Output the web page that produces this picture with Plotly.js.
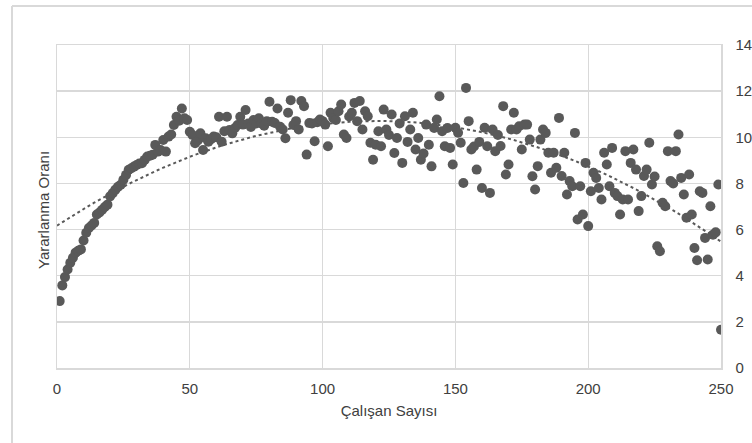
<!DOCTYPE html>
<html>
<head>
<meta charset="utf-8">
<script src="https://cdn.plot.ly/plotly-3.0.1.min.js"></script>
<style>html,body{margin:0;padding:0;background:#fff;}#chart{width:752px;height:443px;}</style>
</head>
<body>
<div id="chart"></div>
<script>
// Çalışan Sayısı (x) and Yararlanma Oranı (y)
var calisanSayisi = [
  1,2,3,4,5,6,7,8,9,10,11,12,13,14,15,16,17,18,19,20,
  21,22,23,24,25,26,27,28,29,30,31,32,33,34,35,36,37,38,39,40,
  41,42,43,44,45,46,47,48,49,50,51,52,53,54,55,56,57,58,59,60,
  61,62,63,64,65,66,67,68,69,70,71,72,73,74,75,76,77,78,79,80,
  81,82,83,84,85,86,87,88,89,90,91,92,93,94,95,96,97,98,99,100,
  101,102,103,104,105,106,107,108,109,110,111,112,113,114,115,116,117,118,119,120,
  121,122,123,124,125,126,127,128,129,130,131,132,133,134,135,136,137,138,139,140,
  141,142,143,144,145,146,147,148,149,150,151,152,153,154,155,156,157,158,159,160,
  161,162,163,164,165,166,167,168,169,170,171,172,173,174,175,176,177,178,179,180,
  181,182,183,184,185,186,187,188,189,190,191,192,193,194,195,196,197,198,199,200,
  201,202,203,204,205,206,207,208,209,210,211,212,213,214,215,216,217,218,219,220,
  221,222,223,224,225,226,227,228,229,230,231,232,233,234,235,236,237,238,239,240,
  241,242,243,244,245,246,247,248,249,250
];
var yararlanmaOrani = [
  2.9,3.58,3.94,4.27,4.56,4.78,5.0,5.08,5.14,5.53,5.86,6.07,6.18,6.29,6.65,6.74,6.86,6.98,7.08,7.44,
  7.58,7.73,7.86,7.94,8.16,8.37,8.59,8.66,8.73,8.8,8.86,8.88,9.02,9.17,9.2,9.24,9.67,9.38,9.45,9.88,
  9.38,10.03,10.12,10.53,10.89,10.72,11.25,10.82,10.75,10.24,10.1,9.74,9.86,10.17,9.45,9.96,9.81,9.92,10.03,10.0,
  10.89,9.81,10.26,10.89,10.32,10.17,10.4,10.53,10.89,10.55,11.18,10.6,10.45,10.75,10.6,10.82,10.6,10.5,10.7,11.54,
  10.67,10.62,11.25,10.46,10.34,9.96,11.06,11.61,10.53,10.7,10.34,11.57,11.35,9.25,10.62,10.6,9.83,10.65,10.77,10.7,
  10.55,9.61,11.06,10.84,10.75,11.13,11.42,10.12,9.97,10.9,11.06,11.49,10.7,11.57,10.34,11.13,10.91,9.76,9.03,9.68,
  10.26,9.61,11.2,10.34,10.1,10.99,9.32,9.97,10.6,8.89,10.91,9.8,10.34,11.06,9.47,9.97,9.03,9.3,10.55,9.68,
  8.74,10.4,10.77,11.78,10.26,9.61,10.4,9.54,8.82,10.41,10.2,9.76,8.02,12.14,10.7,9.47,9.6,8.6,9.8,7.8,
  10.41,9.61,7.59,10.34,9.4,10.1,9.62,11.35,8.39,8.82,10.34,11.06,10.34,10.48,9.47,10.55,10.55,9.9,8.31,7.74,
  8.75,9.9,10.34,10.19,9.33,8.46,9.33,8.68,10.84,8.32,9.33,7.52,8.1,7.88,10.19,6.44,7.88,6.65,8.89,6.15,
  7.66,8.46,8.24,7.8,7.3,9.33,8.82,7.88,9.54,7.59,7.45,6.65,7.3,9.4,7.3,8.89,9.47,8.6,6.8,7.45,
  8.32,8.6,9.76,7.95,8.3,5.28,5.06,7.16,7.01,9.4,8.1,8.0,9.4,10.12,8.24,7.52,6.51,8.39,6.65,5.2,
  4.67,7.66,7.59,5.64,4.7,7.01,5.78,5.88,7.95,1.66
];
var xTickVals = [0,50,100,150,200,250];
var yTickVals = [0,2,4,6,8,10,12,14];

// Polynomial (order 2) least-squares trend line from the data
function quadFit(xs, ys){
  var S=[0,0,0,0,0], T=[0,0,0];
  for (var i=0;i<xs.length;i++){
    var x=xs[i], y=ys[i], p=1;
    for (var k=0;k<5;k++){ S[k]+=p; if(k<3) T[k]+=p*y; p*=x; }
  }
  var A=[[S[0],S[1],S[2],T[0]],[S[1],S[2],S[3],T[1]],[S[2],S[3],S[4],T[2]]];
  for (var c=0;c<3;c++){
    for (var r=c+1;r<3;r++){
      var f=A[r][c]/A[c][c];
      for (var j=c;j<4;j++) A[r][j]-=f*A[c][j];
    }
  }
  var b=[0,0,0];
  for (var r2=2;r2>=0;r2--){
    var s=A[r2][3];
    for (var j2=r2+1;j2<3;j2++) s-=A[r2][j2]*b[j2];
    b[r2]=s/A[r2][r2];
  }
  return b;
}
var coef = quadFit(calisanSayisi, yararlanmaOrani);
var trendX = [], trendY = [];
for (var t=0;t<=250;t+=2){ trendX.push(t); trendY.push(coef[0]+coef[1]*t+coef[2]*t*t); }

var grey = '#595959';
var gridC = '#d9d9d9';
var fontFam = 'Liberation Sans, Arial, sans-serif';

var traces = [
  {x: trendX, y: trendY, type:'scatter', mode:'lines',
   line:{color:grey, width:2, dash:'dot'}, hoverinfo:'skip'},
  {x: calisanSayisi, y: yararlanmaOrani, type:'scatter', mode:'markers',
   marker:{color:grey, size:10, line:{width:0}}}
];

var L = 57, R = 721, T = 45, B = 368;
function px(xp){ return (xp-L)/(R-L); }
function py(yp){ return (B-yp)/(B-T); }

var layout = {
  width:752, height:443,
  margin:{l:L, r:752-R, t:T, b:443-B, pad:0},
  paper_bgcolor:'#fff', plot_bgcolor:'#fff',
  showlegend:false,
  font:{family:fontFam, color:'#404040', size:15},
  xaxis:{
    range:[0,250], tickvals:xTickVals, ticks:'', showgrid:true, gridcolor:gridC, gridwidth:1.3,
    zeroline:false, showline:true, linecolor:gridC, linewidth:1.5, mirror:true,
    tickfont:{size:15, color:'#404040'}, ticklabelstandoff:6,
    title:{text:'Çalışan Sayısı', font:{size:15, color:'#404040'}, standoff:10}
  },
  yaxis:{
    range:[0,14], tickvals:yTickVals, side:'right', ticks:'', showgrid:true, gridcolor:gridC, gridwidth:1.3,
    zeroline:false, showline:true, linecolor:gridC, linewidth:1.5, mirror:true,
    tickfont:{size:15, color:'#404040'}, ticklabelstandoff:10
  },
  annotations:[
    {text:'Yararlanma Oranı', xref:'paper', yref:'paper', x:px(43), y:py(210),
     textangle:-90, showarrow:false, font:{size:15, color:'#404040'}, xanchor:'center', yanchor:'middle'}
  ],
  shapes:[
    {type:'line', xref:'paper', yref:'paper', x0:px(12), x1:px(760), y0:py(6), y1:py(6), line:{color:gridC, width:2}},
    {type:'line', xref:'paper', yref:'paper', x0:px(12), x1:px(12), y0:py(6), y1:py(450), line:{color:gridC, width:2}}
  ]
};

Plotly.newPlot('chart', traces, layout, {staticPlot:true, displayModeBar:false});
</script>
</body>
</html>
